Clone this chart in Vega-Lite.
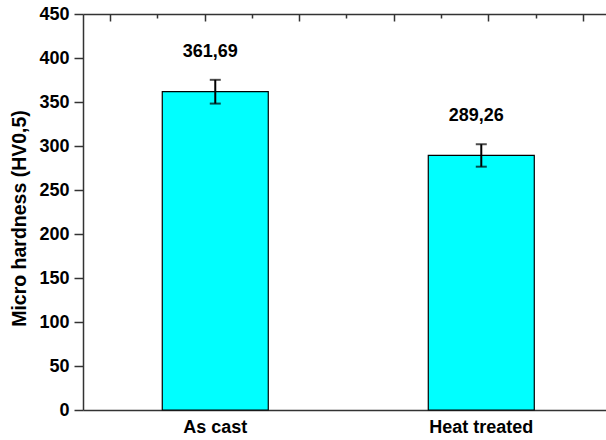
{
  "$schema": "https://vega.github.io/schema/vega-lite/v6.json",
  "autosize": {"type": "none"},
  "padding": {"left": 83, "top": 14, "right": 0, "bottom": 30},
  "width": 523,
  "height": 396,
  "config": {
    "view": {"stroke": null},
    "font": "Liberation Sans",
    "axis": {"grid": false, "domainColor": "#333333", "domainWidth": 1.5, "tickColor": "#333333", "tickWidth": 1.5}
  },
  "layer": [
    {
      "data": {
        "values": [
          {"condition": "As cast", "hardness": 361.69, "lo": 348.2, "hi": 375.2, "label": "361,69"},
          {"condition": "Heat treated", "hardness": 289.26, "lo": 276.5, "hi": 302.0, "label": "289,26"}
        ]
      },
      "encoding": {
        "x": {
          "field": "condition",
          "type": "nominal",
          "sort": null,
          "scale": {"paddingInner": 0.6015, "paddingOuter": 0.2838, "align": 0.525},
          "axis": {
            "orient": "bottom",
            "title": null,
            "ticks": false,
            "labelAngle": 0,
            "labelFont": "Liberation Sans",
            "labelFontSize": 18,
            "labelFontWeight": "bold",
            "labelColor": "black",
            "labelPadding": 8
          }
        }
      },
      "layer": [
        {
          "mark": {"type": "bar", "fill": "#00FFFF", "stroke": "black", "strokeWidth": 1.2},
          "encoding": {
            "y": {
              "field": "hardness",
              "type": "quantitative",
              "scale": {"domain": [0, 450], "nice": false},
              "axis": {
                "title": "Micro hardness (HV0,5)",
                "titleFont": "Liberation Sans",
                "titleFontSize": 19.5,
                "titleFontWeight": "bold",
                "titleColor": "black",
                "titlePadding": 9,
                "titleY": 204,
                "values": [0, 25, 50, 75, 100, 125, 150, 175, 200, 225, 250, 275, 300, 325, 350, 375, 400, 425, 450],
                "labelExpr": "datum.value % 50 === 0 ? datum.label : ''",
                "tickSize": {"condition": {"test": "datum.value % 50 === 0", "value": 9}, "value": 5},
                "labelFont": "Liberation Sans",
                "labelFontSize": 18,
                "labelFontWeight": "bold",
                "labelColor": "black",
                "labelPadding": 5
              }
            }
          }
        },
        {
          "mark": {"type": "rule", "color": "black", "strokeWidth": 2},
          "encoding": {
            "y": {"field": "lo", "type": "quantitative"},
            "y2": {"field": "hi"}
          }
        },
        {
          "mark": {"type": "tick", "color": "black", "size": 11, "thickness": 2},
          "encoding": {
            "y": {"field": "hi", "type": "quantitative"}
          }
        },
        {
          "mark": {"type": "tick", "color": "black", "size": 11, "thickness": 2},
          "encoding": {
            "y": {"field": "lo", "type": "quantitative"}
          }
        },
        {
          "mark": {"type": "text", "font": "Liberation Sans", "fontSize": 18, "fontWeight": "bold", "color": "black", "baseline": "alphabetic", "dy": -23, "dx": -5},
          "encoding": {
            "y": {"field": "hi", "type": "quantitative"},
            "text": {"field": "label", "type": "nominal"}
          }
        }
      ]
    },
    {
      "data": {"values": [{"t": 0}]},
      "mark": {"type": "point", "opacity": 0},
      "encoding": {
        "x": {
          "field": "t",
          "type": "quantitative",
          "scale": {"domain": [-0.285, 5.244], "nice": false, "zero": false},
          "axis": {
            "orient": "top",
            "title": null,
            "labels": false,
            "values": [0, 0.5, 1, 1.5, 2, 2.5, 3, 3.5, 4, 4.5, 5],
            "tickSize": {"condition": {"test": "datum.value % 1 === 0", "value": -7}, "value": -4}
          }
        }
      }
    }
  ],
  "resolve": {"scale": {"x": "independent"}, "axis": {"x": "independent"}}
}
